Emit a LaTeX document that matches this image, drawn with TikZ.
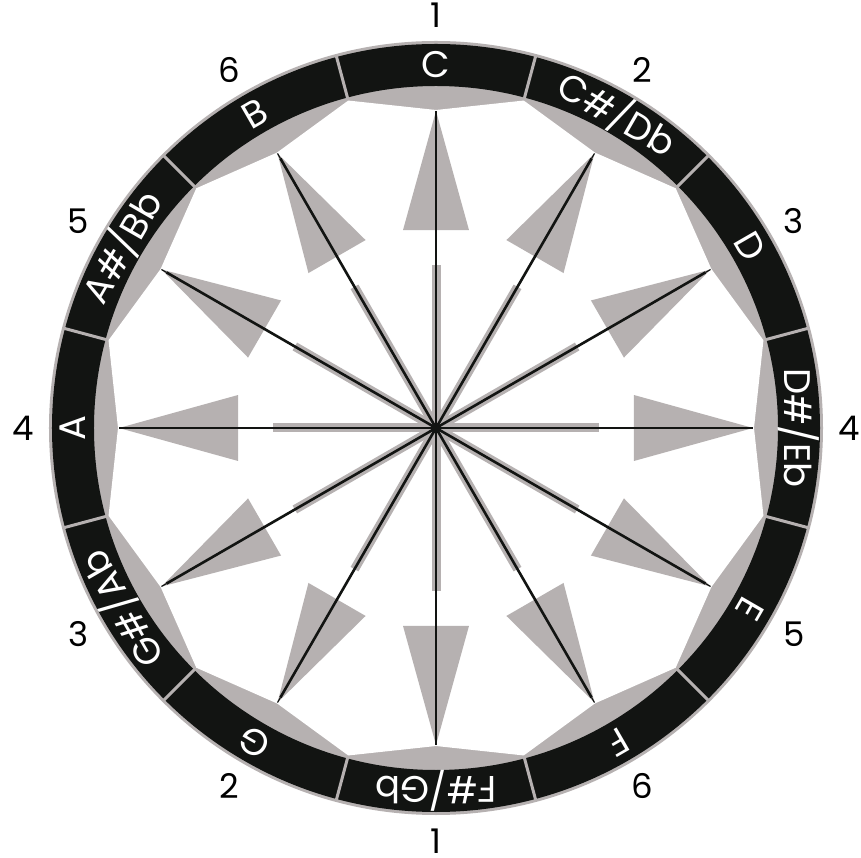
\documentclass[tikz,border=0pt]{standalone}
\usepackage{fontspec}
\setmainfont{Poppins}
\definecolor{ringblack}{RGB}{18,20,18}
\definecolor{arrowgray}{RGB}{182,177,177}
\begin{document}
\begin{tikzpicture}[x=1pt,y=1pt,
  notelabel/.style={text=white,font=\fontsize{37}{37}\selectfont,inner sep=0pt,anchor=center},
  numlabel/.style={text=black,font=\fontsize{34}{34}\selectfont,inner sep=0pt,anchor=center},
  graybar/.style={arrowgray,line width=9pt},
  blackbar/.style={ringblack,line width=2.6pt},
  divider/.style={arrowgray,line width=3pt}]
\useasboundingbox (-436,-430) rectangle (425,428);
\fill[white] (-436,-430) rectangle (425,428);
\coordinate (O) at (0,0);
% ring
\fill[arrowgray] (O) circle (387);
\fill[ringblack,even odd rule] (O) circle (384) (O) circle (342);
\foreach \k in {0,...,11} {
  \draw[divider] ({75-30*\k}:341) -- ({75-30*\k}:386);
}
% white 24-gon inside the ring
\fill[white] (90:318) \foreach \k in {0,...,11}{ -- ({75-30*\k}:339) -- ({60-30*\k}:318)} -- cycle;
% gray arrowheads and shaft bands
\foreach \k in {0,...,11} {
  \pgfmathsetmacro\a{90-30*\k}
  \coordinate (tip\k) at (\a:317);
  \coordinate (bl\k) at (\a+9.46:200.7);
  \coordinate (br\k) at (\a-9.46:200.7);
  \coordinate (sh\k) at (\a:163);
  \fill[arrowgray] (tip\k) -- (bl\k) -- (br\k) -- cycle;
  \draw[graybar] (O) -- (sh\k);
}
% black spokes
\foreach \k in {0,...,11} {
  \pgfmathsetmacro\a{90-30*\k}
  \coordinate (bt\k) at (\a:311);
  \draw[blackbar] (O) -- (bt\k);
  \draw[ringblack,line width=1.2pt] (bt\k) -- (tip\k);
}
\fill[ringblack] (O) circle (5);
% note names in the ring
\foreach \n [count=\c from 0] in {C,{C\#/Db},D,{D\#/Eb},E,F,{F\#/Gb},G,{G\#/Ab},A,{A\#/Bb},B} {
  \pgfmathsetmacro\a{90-30*\c}
  \node[notelabel,rotate=\a-90] (note\c) at (\a:363) {\n};
}
% numbers outside
\foreach \k in {0,...,11} {
  \pgfmathsetmacro\a{90-30*\k}
  \pgfmathtruncatemacro\m{mod(\k,6)+1}
  \node[numlabel] (num\k) at (\a:413) {\m};
}
\end{tikzpicture}
\end{document}
